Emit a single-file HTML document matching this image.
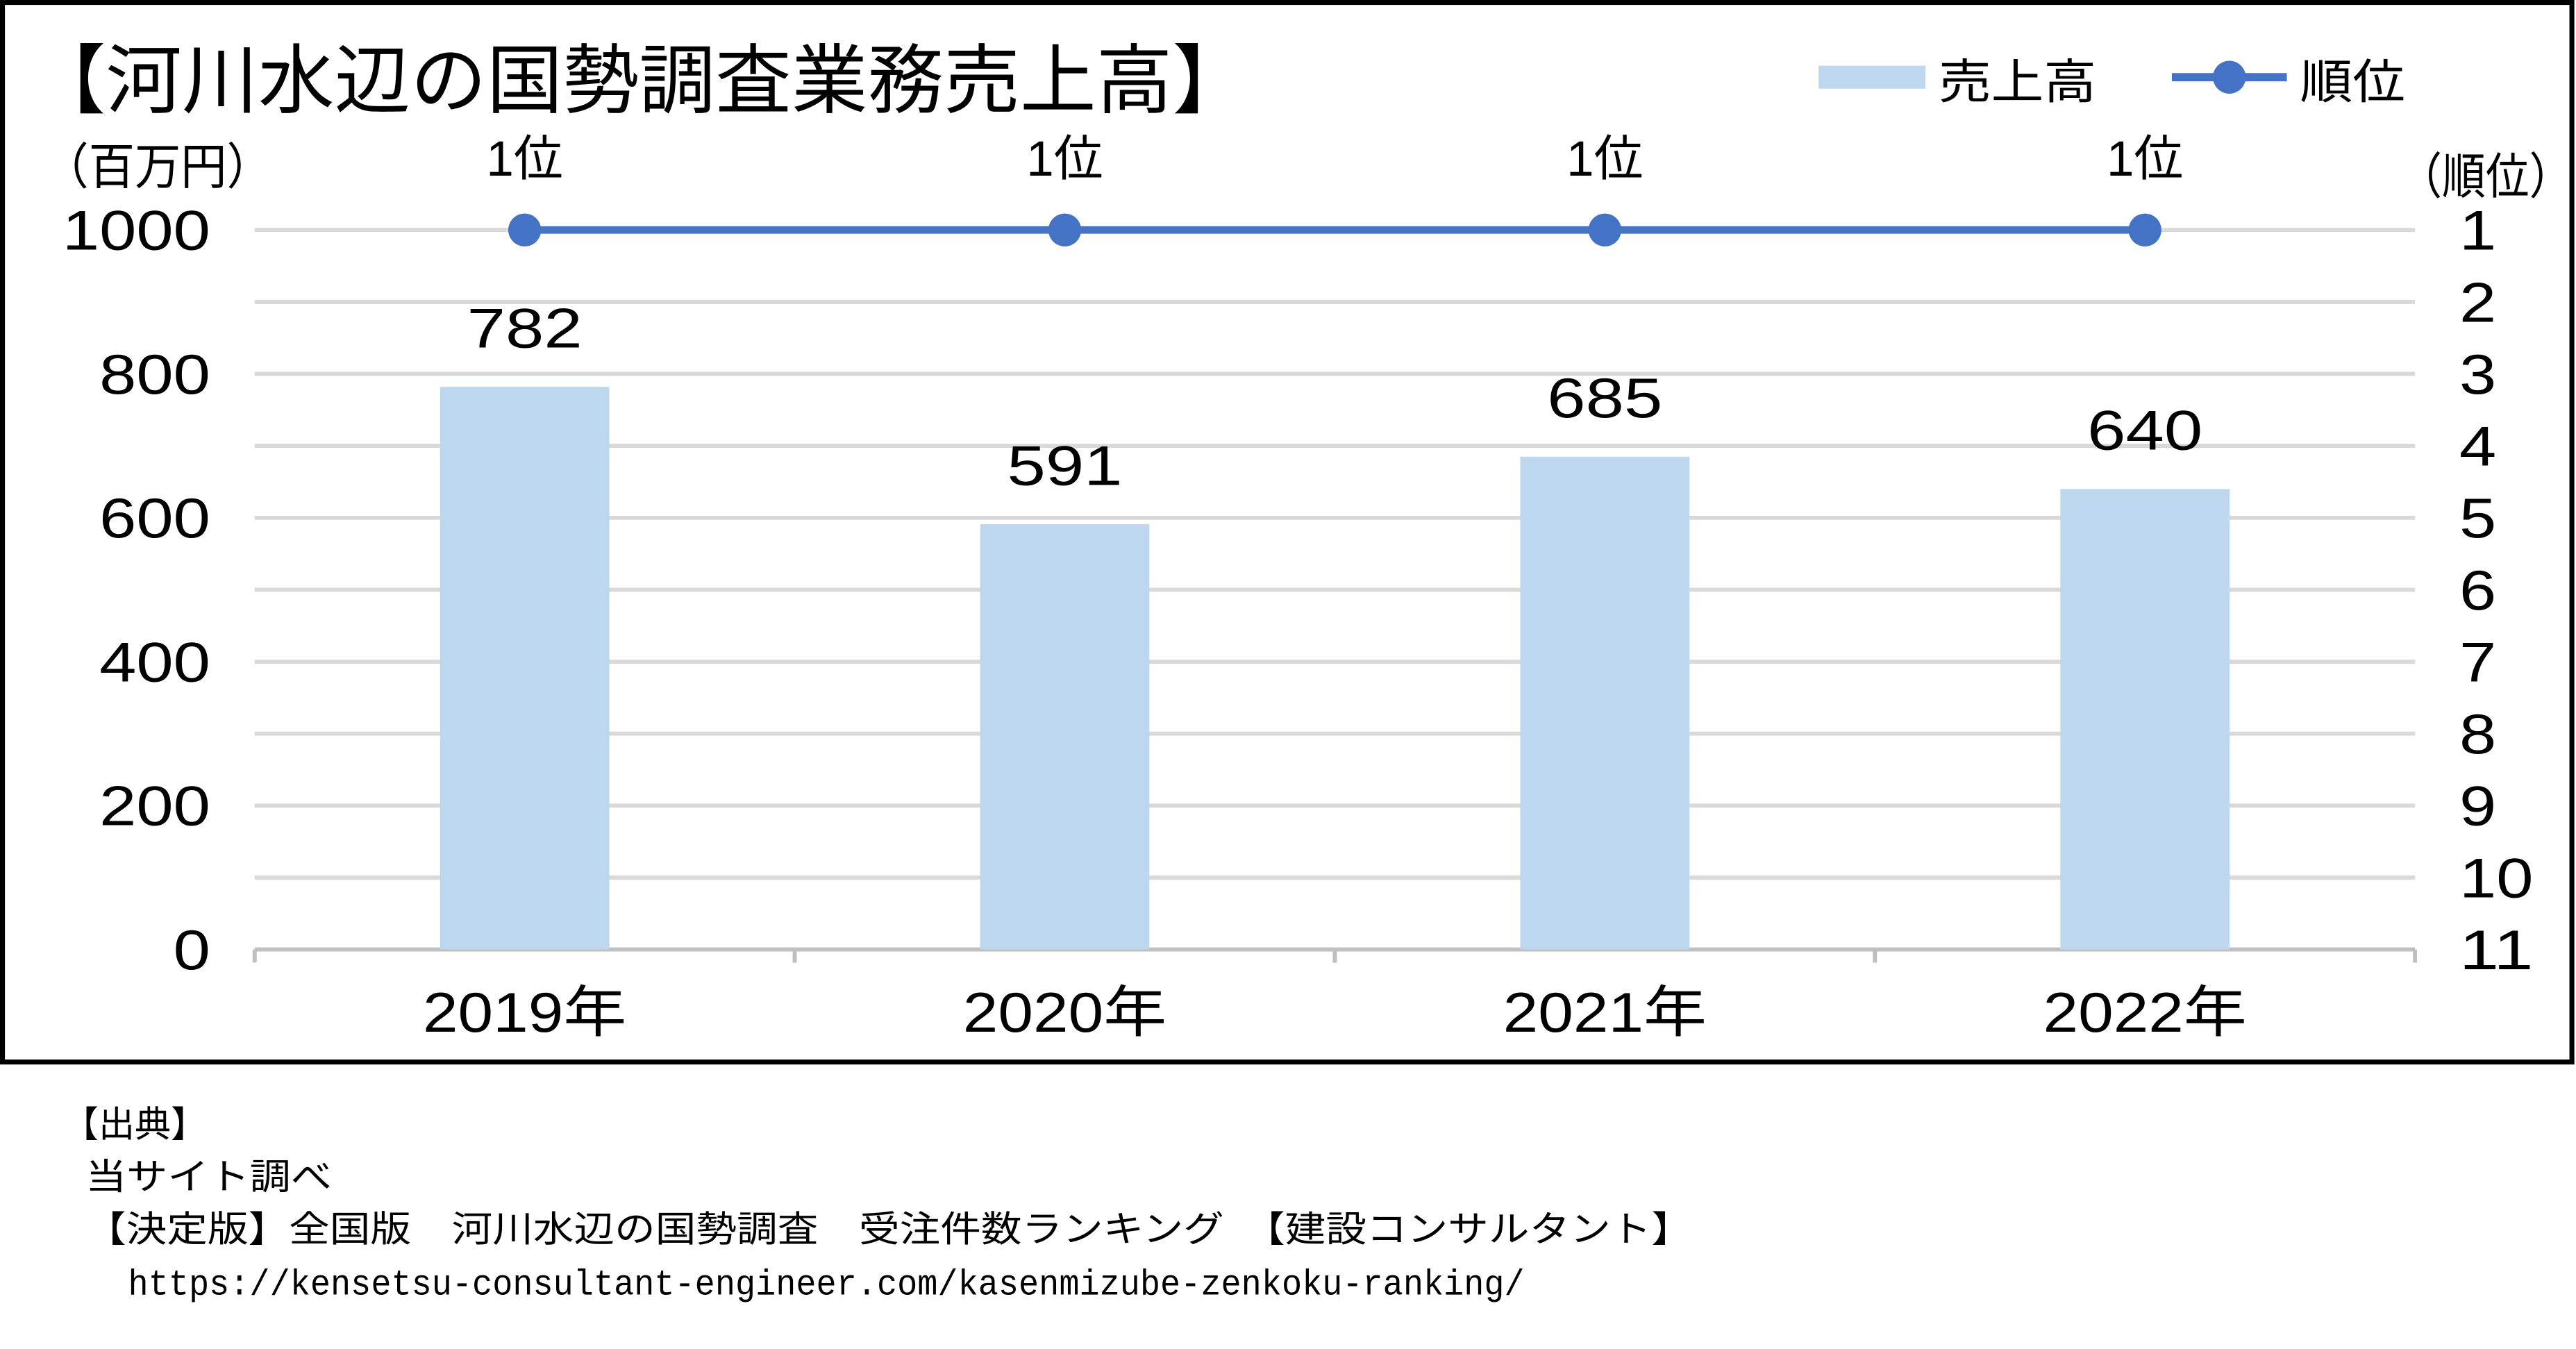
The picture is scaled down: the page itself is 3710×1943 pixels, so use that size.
<!DOCTYPE html>
<html><head><meta charset="utf-8">
<style>
html,body{margin:0;padding:0;background:#fff;}
svg{display:block;}
text{font-family:"Liberation Sans","Noto Sans CJK JP",sans-serif;fill:#000;}
</style></head>
<body>
<svg id="chart" width="3710" height="1943" viewBox="0 0 1568 821.2" preserveAspectRatio="none" xmlns="http://www.w3.org/2000/svg">
<rect x="1.5" y="1.5" width="1564" height="645" fill="#fff" stroke="#000" stroke-width="3"/>
<text x="18" y="65" font-size="46" textLength="742" lengthAdjust="spacingAndGlyphs">【河川水辺の国勢調査業務売上高】</text>
<g>
<rect x="1107" y="40" width="65" height="14" fill="#bdd7ee"/>
<text x="1180" y="60" font-size="29" textLength="96" lengthAdjust="spacingAndGlyphs">売上高</text>
<line x1="1322" y1="47" x2="1392" y2="47" stroke="#4472c4" stroke-width="5"/>
<circle cx="1357" cy="47" r="10" fill="#4472c4"/>
<text x="1400" y="60" font-size="29" textLength="64" lengthAdjust="spacingAndGlyphs">順位</text>
</g>
<text x="26" y="112" font-size="30" textLength="140" lengthAdjust="spacingAndGlyphs">（百万円）</text>
<text x="1460" y="118" font-size="30" textLength="106" lengthAdjust="spacingAndGlyphs">（順位）</text>
<g id="grid"></g><g id="bars"></g><g id="line"></g><g id="labels"></g>
<g>
<text x="38" y="692" font-size="22">【出典】</text>
<text x="52" y="724" font-size="22" textLength="150" lengthAdjust="spacingAndGlyphs">当サイト調べ</text>
<text x="52" y="756" font-size="22" textLength="978" lengthAdjust="spacingAndGlyphs">【決定版】全国版　河川水辺の国勢調査　受注件数ランキング　【建設コンサルタント】</text>
<text x="78" y="788" font-size="22" textLength="850" lengthAdjust="spacingAndGlyphs" style="font-family:'Liberation Mono',monospace">https://kensetsu-consultant-engineer.com/kasenmizube-zenkoku-ranking/</text>
</g>
</svg>
<script>
const categories=["2019年","2020年","2021年","2022年"];
const sales=[782,591,685,640];
const ranks=[1,1,1,1];
const leftTicks=[0,200,400,600,800,1000];
const rightTicks=[1,2,3,4,5,6,7,8,9,10,11];
const NS="http://www.w3.org/2000/svg";
const X0=155,X1=1470,Y0=578,Y1=140;
const band=(X1-X0)/categories.length;
const xc=i=>X0+band*(i+0.5);
const yL=v=>Y0-(v/1000)*(Y0-Y1);
const yR=r=>Y1+(r-1)/10*(Y0-Y1);
function mk(tag,attrs,parent,txt){const e=document.createElementNS(NS,tag);for(const k in attrs)e.setAttribute(k,attrs[k]);if(txt!==undefined)e.textContent=txt;parent.appendChild(e);return e;}
const grid=document.getElementById('grid'),bars=document.getElementById('bars'),line=document.getElementById('line'),labels=document.getElementById('labels');
for(let v=100;v<=1000;v+=100){const g=mk('line',{x1:X0,x2:X1,y1:yL(v),y2:yL(v),stroke:'#d9d9d9','stroke-width':2.5},grid);

}
const ax=mk('line',{x1:X0,x2:X1,y1:Y0,y2:Y0,stroke:'#bfbfbf','stroke-width':2.5},grid);


for(let i=0;i<=categories.length;i++){const t=mk('line',{x1:X0+band*i,x2:X0+band*i,y1:Y0,y2:Y0+8,stroke:'#bfbfbf','stroke-width':2.5},grid);

}
leftTicks.forEach(v=>{const s=String(v);const t=mk('text',{x:128-22.5*s.length,y:yL(v)+12,'font-size':34,textLength:22.5*s.length,lengthAdjust:'spacingAndGlyphs'},labels,s);

});
rightTicks.forEach(r=>{const s=String(r);const t=mk('text',{x:1497,y:yR(r)+12,'font-size':34,textLength:22.5*s.length,lengthAdjust:'spacingAndGlyphs'},labels,s);

});
categories.forEach((c,i)=>{
const b=mk('rect',{x:xc(i)-51.5,y:yL(sales[i]),width:103,height:Y0-yL(sales[i]),fill:'#bdd7ee'},bars);


const s=String(sales[i]);
const vl=mk('text',{x:xc(i)-11.7*s.length,y:yL(sales[i])-24,'font-size':34,textLength:23.4*s.length,lengthAdjust:'spacingAndGlyphs'},labels,s);


const xl=mk('text',{x:xc(i)-62,y:628,'font-size':34,textLength:124,lengthAdjust:'spacingAndGlyphs'},labels,c);


const rl=mk('text',{x:xc(i),y:yR(ranks[i])-33,'font-size':30,'text-anchor':'middle'},labels,ranks[i]+'位');


});
const pts=categories.map((c,i)=>xc(i)+','+yR(ranks[i])).join(' ');
const pl=mk('polyline',{points:pts,fill:'none',stroke:'#4472c4','stroke-width':4.5},line);


categories.forEach((c,i)=>{const m=mk('circle',{cx:xc(i),cy:yR(ranks[i]),r:10,fill:'#4472c4'},line);

});
</script>
</body></html>
